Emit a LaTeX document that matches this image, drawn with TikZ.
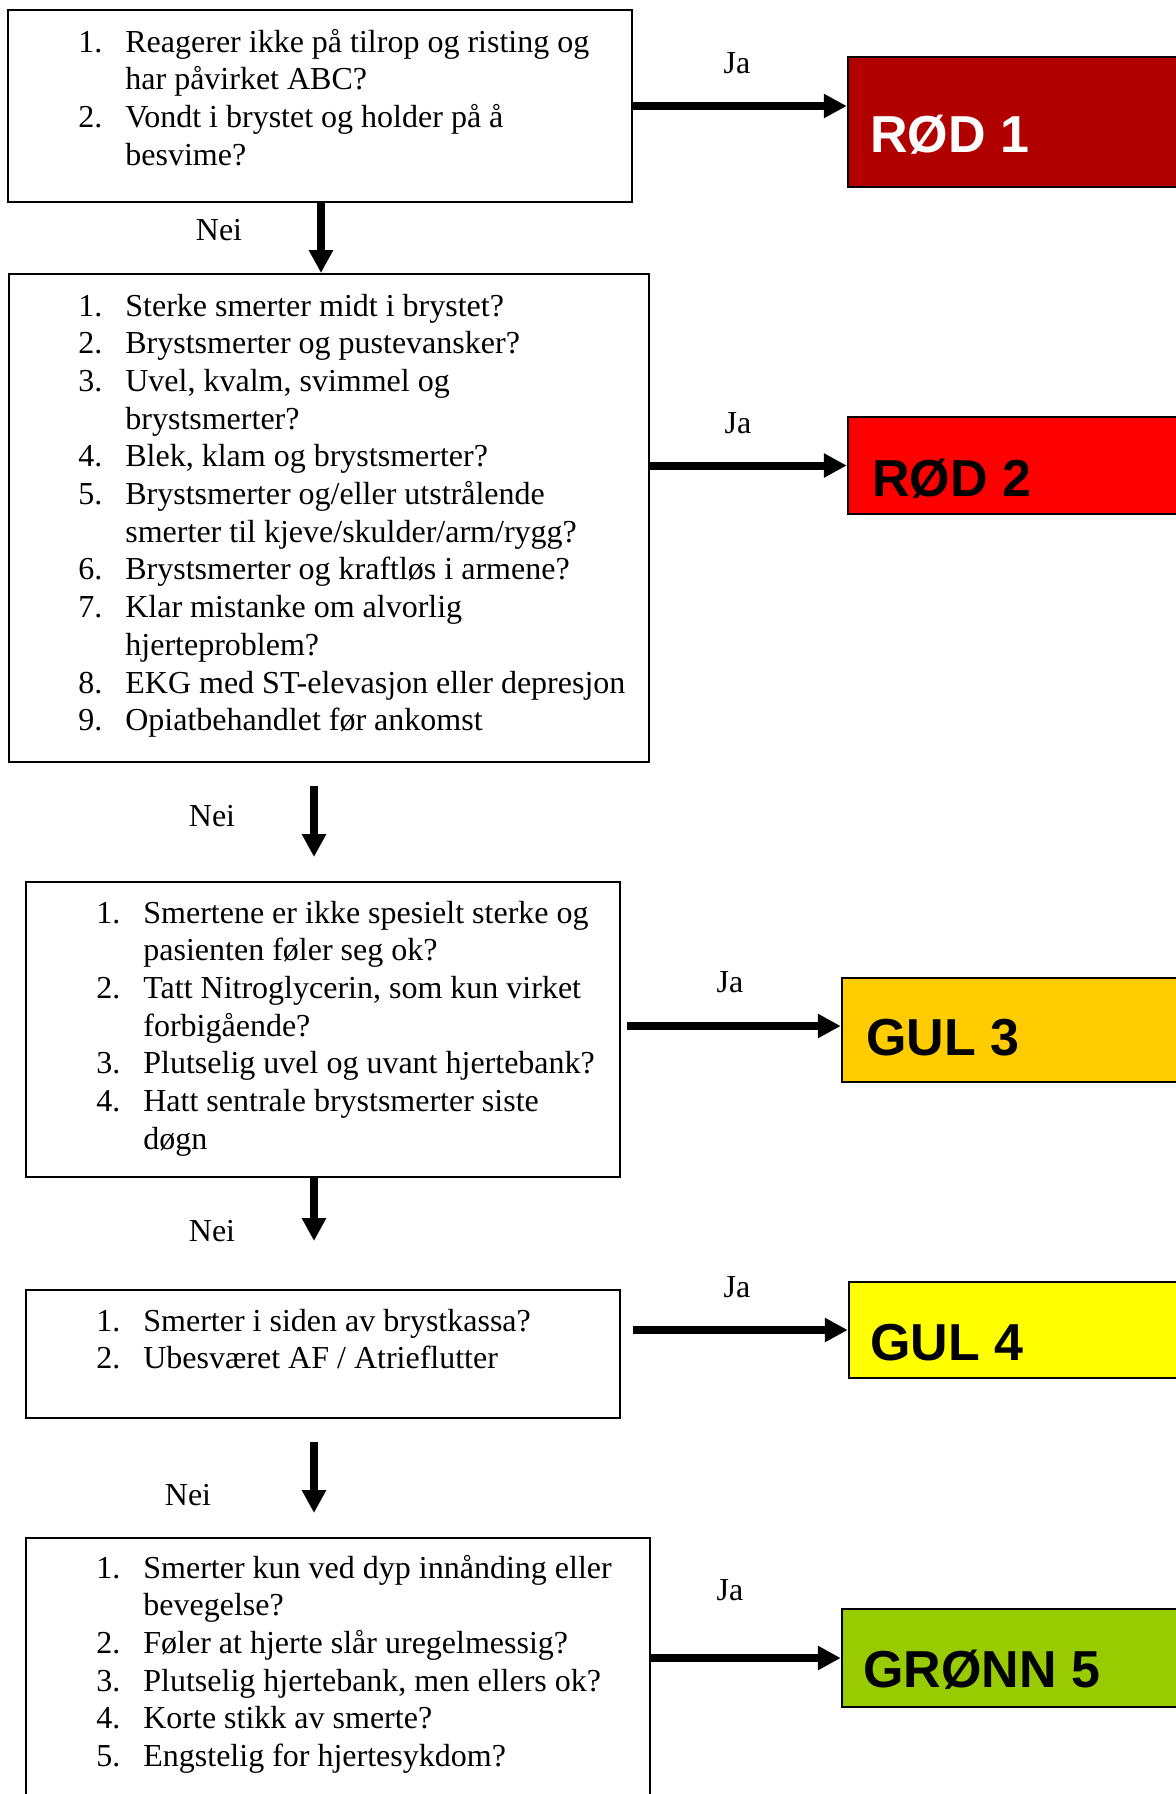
\documentclass[tikz,border=0pt]{standalone}
\usepackage{fontspec}
\setmainfont{Liberation Serif}
\newfontfamily\tagfont{Liberation Sans}
\usetikzlibrary{arrows.meta,fit}

\definecolor{rodA}{HTML}{B00000}
\definecolor{rodB}{HTML}{FF0000}
\definecolor{gulA}{HTML}{FFCC00}
\definecolor{gulB}{HTML}{FFFF00}
\definecolor{gronn}{HTML}{99CC00}

% numbered question list: number column + text column, forced line breaks
\newcommand\qlist[1]{\begin{tabular}[t]{@{}p{23.5pt}@{}l@{}}#1\end{tabular}}

\begin{document}
\begin{tikzpicture}[x=0.5pt,y=-0.5pt,
  qbox/.style={draw, line width=1pt, inner sep=0pt},
  tagbox/.style={draw, line width=1.25pt, inner sep=0pt},
  qtext/.style={anchor=base west, inner sep=0pt, font=\fontsize{16pt}{18.85pt}\selectfont},
  tagtext/.style={anchor=base west, inner sep=0pt, font=\tagfont\bfseries\fontsize{26pt}{30pt}\selectfont},
  yn/.style={anchor=base, inner sep=0pt, font=\fontsize{16pt}{18.85pt}\selectfont},
  flow/.style={line width=4pt, -{Triangle[length=11.5pt,width=11.5pt]}},
]
\clip (0,0) rectangle (1176,1794);
\fill[white] (0,0) rectangle (1176,1794);

% question boxes
\node[qbox, fit={(8,10) (632,202)}] (q1) {};
\node[qbox, fit={(9,274) (649,762)}] (q2) {};
\node[qbox, fit={(26,882) (620,1177)}] (q3) {};
\node[qbox, fit={(26,1290) (620,1418)}] (q4) {};
\node[qbox, fit={(26,1538) (650,1810)}] (q5) {};

% triage level boxes
\node[tagbox, fill=rodA, fit={(848,57) (1190,187)}] (r1) {};
\node[tagbox, fill=rodB, fit={(848,417) (1190,514)}] (r2) {};
\node[tagbox, fill=gulA, fit={(842,978) (1190,1082)}] (g3) {};
\node[tagbox, fill=gulB, fit={(849,1282) (1190,1378)}] (g4) {};
\node[tagbox, fill=gronn, fit={(842,1609) (1190,1707)}] (g5) {};

\node[tagtext, text=white] (r1t) at (870,152) {RØD 1};
\node[tagtext] (r2t) at (872,496) {RØD 2};
\node[tagtext] (g3t) at (866,1055) {GUL 3};
\node[tagtext] (g4t) at (870,1360) {GUL 4};
\node[tagtext] (g5t) at (863,1687) {GRØNN 5};

% question texts
\node[qtext] (q1t) at (78,52) {\qlist{%
1. & Reagerer ikke på tilrop og risting og\\
   & har påvirket ABC?\\
2. & Vondt i brystet og holder på å\\
   & besvime?}};

\node[qtext] (q2t) at (78,316) {\qlist{%
1. & Sterke smerter midt i brystet?\\
2. & Brystsmerter og pustevansker?\\
3. & Uvel, kvalm, svimmel og\\
   & brystsmerter?\\
4. & Blek, klam og brystsmerter?\\
5. & Brystsmerter og/eller utstrålende\\
   & smerter til kjeve/skulder/arm/rygg?\\
6. & Brystsmerter og kraftløs i armene?\\
7. & Klar mistanke om alvorlig\\
   & hjerteproblem?\\
8. & EKG med ST-elevasjon eller depresjon\\
9. & Opiatbehandlet før ankomst}};

\node[qtext] (q3t) at (96,923) {\qlist{%
1. & Smertene er ikke spesielt sterke og\\
   & pasienten føler seg ok?\\
2. & Tatt Nitroglycerin, som kun virket\\
   & forbigående?\\
3. & Plutselig uvel og uvant hjertebank?\\
4. & Hatt sentrale brystsmerter siste\\
   & døgn}};

\node[qtext] (q4t) at (96,1331) {\qlist{%
1. & Smerter i siden av brystkassa?\\
2. & Ubesværet AF / Atrieflutter}};

\node[qtext] (q5t) at (96,1578) {\qlist{%
1. & Smerter kun ved dyp innånding eller\\
   & bevegelse?\\
2. & Føler at hjerte slår uregelmessig?\\
3. & Plutselig hjertebank, men ellers ok?\\
4. & Korte stikk av smerte?\\
5. & Engstelig for hjertesykdom?}};

% "Ja" branches
\node[yn] (ja1) at (737,73) {Ja};
\node[yn] (ja2) at (738,433) {Ja};
\node[yn] (ja3) at (730,992) {Ja};
\node[yn] (ja4) at (737,1297) {Ja};
\node[yn] (ja5) at (730,1600) {Ja};

\draw[flow] (q1.east) -- (q1.east -| r1.west);
\draw[flow] (r2.west -| q2.east) -- (r2.west);
\coordinate (j3) at (627,1026);
\draw[flow] (j3) -- (j3 -| g3.west);
\coordinate (j4) at (633,1330);
\draw[flow] (j4) -- (j4 -| g4.west);
\draw[flow] (g5.west -| q5.east) -- (g5.west);

% "Nei" branches
\node[yn] (nei1) at (219,240) {Nei};
\node[yn] (nei2) at (212,826) {Nei};
\node[yn] (nei3) at (212,1241) {Nei};
\node[yn] (nei4) at (188,1505) {Nei};

\coordinate (k1) at (321,0);
\draw[flow] (k1 |- q1.south) -- (k1 |- q2.north);
\coordinate (k2a) at (314,786);
\coordinate (k2b) at (314,857);
\draw[flow] (k2a) -- (k2b);
\coordinate (k3) at (314,1241);
\draw[flow] (k3 |- q3.south) -- (k3);
\coordinate (k4a) at (314,1442);
\coordinate (k4b) at (314,1513);
\draw[flow] (k4a) -- (k4b);
\end{tikzpicture}
\end{document}
